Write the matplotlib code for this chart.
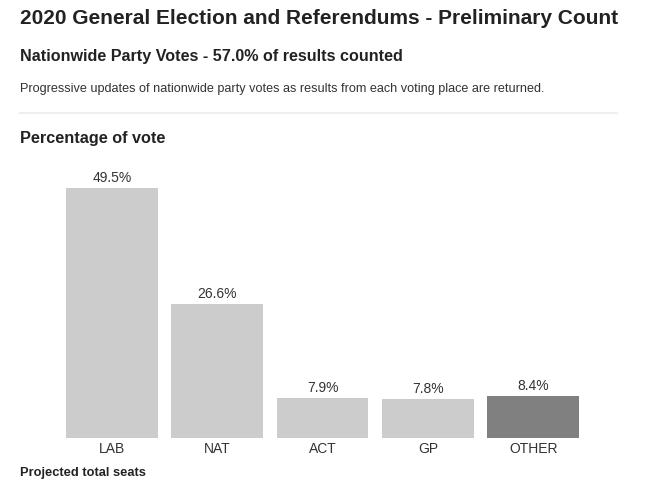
import matplotlib.pyplot as plt
import numpy as np

parties = ['LAB', 'NAT', 'ACT', 'GP', 'OTHER']
votes = [49.5, 26.6, 7.9, 7.8, 8.4]
colors = ['#cccccc', '#cccccc', '#cccccc', '#cccccc', '#808080']

W, H = 664, 498
fig = plt.figure(figsize=(W / 100, H / 100), dpi=100)
plt.rcParams['font.family'] = 'Liberation Sans'

def fy(py):
    return 1 - py / H

txt = '#222222'
fig.text(20 / W, fy(19), '2020 General Election and Referendums - Preliminary Count',
         fontsize=15.0, fontweight='bold', color=txt, va='center')
fig.text(20 / W, fy(56), 'Nationwide Party Votes - 57.0% of results counted',
         fontsize=11.6, fontweight='bold', color=txt, va='center')
fig.text(20 / W, fy(89), 'Progressive updates of nationwide party votes as results from each voting place are returned.',
         fontsize=9.1, color='#333333', va='center')
fig.add_artist(plt.Line2D([20 / W, 617 / W], [fy(113), fy(113)], color='#eeeeee', lw=1.5))
fig.text(20 / W, fy(139), 'Percentage of vote',
         fontsize=11.7, fontweight='bold', color=txt, va='center')
fig.text(20 / W, fy(473), 'Projected total seats',
         fontsize=9.3, fontweight='bold', color=txt, va='center')

ymax = 55
ppu = 5.05
ax_h = ymax * ppu
ax = fig.add_axes([66 / W, (H - 438) / H, 513 / W, ax_h / H])
x = np.arange(len(parties))
bars = ax.bar(x, votes, width=0.87, color=colors)
for xi, v in zip(x, votes):
    ax.text(xi, v + 0.6, f'{v}%', ha='center', va='bottom', fontsize=10, color='#333333')
ax.set_xlim(-0.435, 4.435)
ax.set_ylim(0, ymax)
ax.set_xticks(x)
ax.set_xticklabels(parties, fontsize=10, color='#333333')
ax.tick_params(axis='x', length=0, pad=3)
ax.set_yticks([])
for s in ax.spines.values():
    s.set_visible(False)

fig.savefig('out.png', dpi=100)
